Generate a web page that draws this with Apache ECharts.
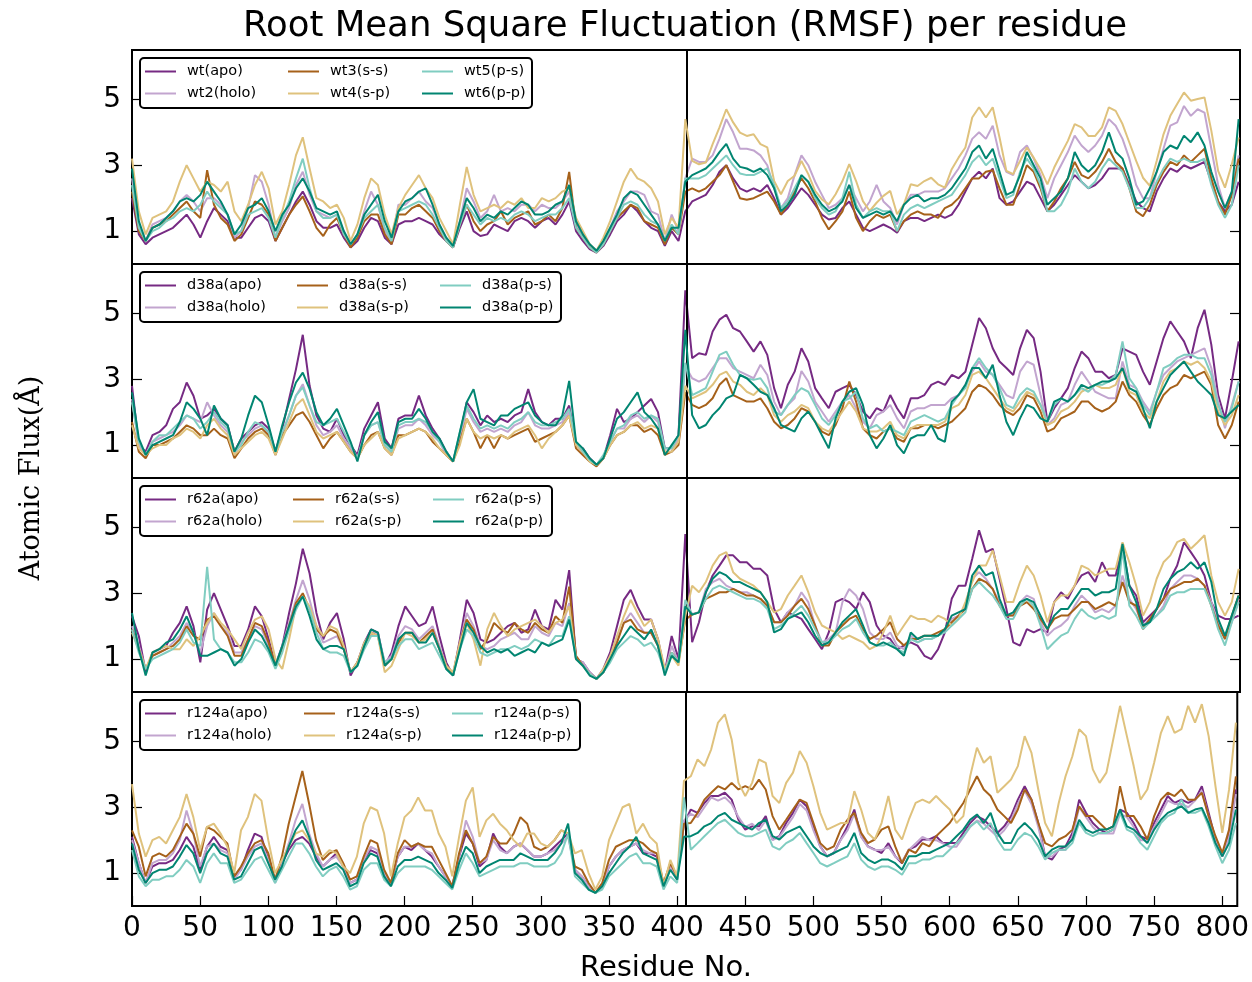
<!DOCTYPE html>
<html><head><meta charset="utf-8">
<script src="https://cdn.jsdelivr.net/npm/echarts@6/dist/echarts.min.js"></script>
<style>html,body{margin:0;padding:0;background:#fff}#c{width:1252px;height:982px}</style>
</head><body><div id="c"></div>
<script>
// ---------- DATA ----------
const residuesA = [0,5,10,15,20,25,30,35,40,45,50,55,60,65,70,75,80,85,90,95,100,105,110,115,120,125,130,135,140,145,150,155,160,165,170,175,180,185,190,195,200,205,210,215,220,225,230,235,240,245,250,255,260,265,270,275,280,285,290,295,300,305,310,315,320,325,330,335,340,345,350,355,360,365,370,375,380,385,390,395,400,405];
const residuesB = [410,415,420,425,430,435,440,445,450,455,460,465,470,475,480,485,490,495,500,505,510,515,520,525,530,535,540,545,550,555,560,565,570,575,580,585,590,595,600,605,610,615,620,625,630,635,640,645,650,655,660,665,670,675,680,685,690,695,700,705,710,715,720,725,730,735,740,745,750,755,760,765,770,775,780,785,790,795,800,805,810];
const xTickValues = [0,50,100,150,200,250,300,350,400,450,500,550,600,650,700,750,800];
const yTickValues = [1,3,5];
const chainBoundary = 406;

const wtLabels   = ['wt(apo)','wt2(holo)','wt3(s-s)','wt4(s-p)','wt5(p-s)','wt6(p-p)'];
const d38aLabels = ['d38a(apo)','d38a(holo)','d38a(s-s)','d38a(s-p)','d38a(p-s)','d38a(p-p)'];
const r62aLabels = ['r62a(apo)','r62a(holo)','r62a(s-s)','r62a(s-p)','r62a(p-s)','r62a(p-p)'];
const r124aLabels= ['r124a(apo)','r124a(holo)','r124a(s-s)','r124a(s-p)','r124a(p-s)','r124a(p-p)'];
const seriesColors = ['#762a83','#c2a5cf','#a6611a','#dfc27d','#80cdc1','#018571'];

// ----- wt -----
const wt_apo_A = [2.0,0.9,0.6,0.8,0.9,1.0,1.1,1.3,1.5,1.2, 0.8,1.3,1.7,1.5,1.3,0.8,0.8,1.1,1.4,1.5, 1.3,0.7,1.1,1.5,1.9,2.2,1.8,1.3,1.1,1.1, 1.2,0.8,0.5,0.7,1.1,1.4,1.3,0.8,0.6,1.2, 1.3,1.3,1.4,1.3,1.2,0.9,0.7,0.5,1.1,1.6, 1.0,0.85,0.9,1.2,1.1,1.0,1.3,1.4,1.3,1.1, 1.3,1.4,1.2,1.5,1.9,1.0,0.7,0.45,0.35,0.55, 0.9,1.3,1.5,1.8,1.6,1.3,1.1,1.0,0.55,1.0, 0.7,1.6];
const wt_apo_B = [1.9,2.0,2.1,2.4,2.8,3.0,2.6,2.3,2.2,2.3, 2.2,2.4,2.0,1.5,1.7,2.0,2.3,2.1,1.8,1.5, 1.35,1.4,1.7,1.9,1.5,1.1,1.0,1.1,1.2,1.1, 0.95,1.3,1.4,1.4,1.3,1.4,1.5,1.4,1.5,1.8, 2.2,2.6,2.8,2.6,2.9,2.0,1.8,1.9,2.2,2.5, 2.4,2.0,1.6,1.8,2.1,2.4,2.7,2.5,2.3,2.4, 2.6,2.9,2.9,2.9,2.4,1.9,1.7,1.6,2.2,2.6, 2.9,2.8,3.0,2.9,3.0,3.1,2.5,1.9,1.6,1.8, 2.5];
const wt_holo_A = [2.6,1.2,0.7,1.2,1.3,1.4,1.6,1.9,2.1,1.9, 1.6,2.0,2.0,1.8,1.5,0.8,1.0,1.7,2.7,2.5, 1.8,0.8,1.3,1.7,2.4,2.8,2.1,1.6,1.5,1.4, 1.5,1.0,0.6,0.9,1.6,2.2,1.8,1.0,0.7,1.8, 1.8,2.0,2.2,1.9,1.7,1.2,0.8,0.55,1.3,2.3, 1.9,1.4,1.6,2.1,1.6,1.7,1.6,1.8,1.8,1.6, 1.8,1.7,1.7,1.9,2.2,1.2,0.9,0.6,0.4,0.7, 1.1,1.6,1.9,2.2,2.2,2.1,1.6,1.5,0.7,1.5, 1.0,2.6];
const wt_holo_B = [3.2,3.1,3.1,3.3,3.8,4.4,4.0,3.5,3.5,3.45, 3.3,3.0,2.3,1.7,2.0,2.7,3.3,3.0,2.5,2.1, 1.7,1.8,2.0,2.4,2.0,1.6,1.9,2.4,1.9,1.7, 1.2,1.8,2.1,2.1,2.2,2.2,2.2,2.3,2.6,2.9, 3.3,3.8,4.0,3.8,4.2,3.3,2.8,2.7,3.4,3.6, 3.2,2.7,2.0,2.6,3.0,3.4,3.9,3.6,3.4,3.6, 3.9,4.4,4.2,3.8,3.2,2.4,2.0,2.0,2.8,3.5, 4.2,4.3,4.8,4.5,4.7,4.6,3.5,2.4,1.7,2.2, 3.3];
const wt_ss_A = [2.2,1.0,0.7,1.1,1.2,1.3,1.5,1.7,1.9,1.6, 1.4,2.85,1.8,1.4,1.2,0.7,0.9,1.4,1.9,1.8, 1.5,0.7,1.1,1.5,1.8,2.05,1.6,1.1,0.85,1.2, 1.4,0.9,0.5,0.8,1.3,1.5,1.5,0.9,0.6,1.5, 1.5,1.7,1.8,1.6,1.4,1.0,0.7,0.5,1.2,1.8, 1.3,1.0,1.2,1.3,1.6,1.2,1.4,1.5,1.6,1.2, 1.3,1.5,1.3,1.7,2.8,1.1,0.8,0.5,0.35,0.6, 1.0,1.4,1.6,1.8,1.7,1.3,1.2,1.1,0.6,1.1, 0.9,2.2];
const wt_ss_B = [2.3,2.2,2.3,2.5,2.7,3.0,2.5,2.0,1.95,2.0, 2.1,2.2,1.9,1.5,1.8,2.2,2.6,2.3,1.9,1.4, 1.05,1.3,1.6,2.2,1.4,1.0,1.3,1.5,1.4,1.5, 1.0,1.3,1.5,1.6,1.5,1.5,1.4,1.7,1.8,2.0, 2.3,2.6,2.6,2.8,2.85,2.3,1.8,1.8,2.4,3.0, 2.8,2.3,1.6,1.9,2.3,2.6,3.1,2.7,2.6,2.8, 3.1,3.5,3.1,2.9,2.3,1.6,1.45,1.8,2.4,2.8, 3.1,3.0,3.3,3.1,3.3,3.5,2.6,1.9,1.5,2.1, 3.2];
const wt_sp_A = [3.2,1.6,0.9,1.4,1.5,1.6,1.9,2.5,3.0,2.6, 2.2,2.5,2.4,2.2,2.5,1.6,1.3,1.8,2.4,2.8, 2.3,1.2,1.6,2.4,3.3,3.85,2.9,2.0,1.9,1.7, 1.8,1.4,0.7,1.2,2.0,2.6,2.4,1.5,0.9,1.7, 2.1,2.4,2.7,2.3,2.0,1.4,1.0,0.6,1.8,2.95, 2.1,1.6,1.7,1.8,1.7,1.9,1.8,2.0,1.7,1.7, 2.0,1.9,2.0,2.2,2.3,1.4,1.0,0.6,0.4,0.8, 1.3,1.9,2.5,2.9,2.6,2.5,2.3,1.9,0.9,1.4, 1.1,4.4];
const wt_sp_B = [3.13,3.03,3.08,3.64,4.15,4.7,4.3,3.99,3.89,3.94, 3.64,3.54,2.52,2.12,2.52,2.68,3.13,2.73,2.22,1.96, 1.81,2.12,2.52,3.03,2.52,1.91,1.61,1.86,2.07,2.22, 1.51,1.81,2.42,2.37,2.52,2.62,2.42,2.32,2.88,3.23, 3.54,4.45,4.76,4.45,4.76,3.84,2.83,2.73,3.13,3.54, 3.23,2.88,2.42,2.93,3.34,3.74,4.25,4.15,3.89,3.89, 4.15,4.76,4.65,4.25,3.69,3.13,2.62,2.37,3.13,3.94, 4.5,4.86,5.21,4.96,5.01,5.06,4.05,2.83,2.32,3.03, 3.84];
const wt_ps_A = [2.4,1.1,0.7,1.0,1.1,1.3,1.4,1.6,1.7,1.6, 1.8,2.2,1.9,1.7,1.5,0.9,1.0,1.5,1.6,1.7, 1.4,0.8,1.4,1.9,2.6,3.2,2.3,1.6,1.4,1.4, 1.5,0.9,0.6,0.9,1.4,1.6,1.8,1.1,0.7,1.6, 1.7,1.8,1.9,1.8,1.5,1.1,0.7,0.5,1.2,1.8, 1.5,1.2,1.4,1.3,1.4,1.3,1.5,1.6,1.5,1.3, 1.4,1.5,1.5,1.7,2.0,1.1,0.8,0.5,0.35,0.6, 1.0,1.4,1.8,1.9,1.8,1.5,1.3,1.2,0.7,1.2, 0.9,2.6];
const wt_ps_B = [2.6,2.6,2.7,2.9,3.1,3.3,3.0,2.75,2.7,2.7, 2.8,2.9,2.4,1.7,1.9,2.3,2.7,2.5,2.0,1.7, 1.5,1.6,2.0,2.8,1.8,1.4,1.6,1.7,1.6,1.6, 1.0,1.5,1.7,1.8,1.7,1.8,1.9,2.0,2.1,2.4, 2.7,3.1,3.3,3.0,3.2,2.6,2.0,2.1,2.8,3.2, 2.9,2.4,1.6,1.6,1.8,2.2,2.9,2.5,2.3,2.5, 2.9,3.2,3.0,2.8,2.3,1.7,1.7,2.0,2.5,2.9, 3.2,3.1,3.2,3.1,3.1,3.2,2.4,1.8,1.4,1.8, 3.0];
const wt_pp_A = [2.9,1.3,0.7,1.1,1.2,1.4,1.6,1.9,2.0,1.9, 2.1,2.5,2.2,1.9,1.5,0.9,1.2,1.7,1.8,2.0, 1.6,1.0,1.5,1.8,2.3,2.6,2.2,1.7,1.6,1.5, 1.6,1.0,0.6,0.9,1.5,1.8,2.1,1.3,0.8,1.6, 1.9,2.0,2.2,2.3,1.8,1.2,0.8,0.55,1.3,2.0, 1.7,1.3,1.5,1.4,1.6,1.5,1.7,1.9,1.8,1.5, 1.5,1.6,1.8,1.9,2.4,1.3,0.9,0.6,0.4,0.7, 1.1,1.5,2.0,2.2,2.1,1.8,1.5,1.2,0.7,1.1, 1.1,2.5];
const wt_pp_B = [2.7,2.8,2.9,3.1,3.4,3.65,3.2,2.95,2.9,2.8, 2.9,2.7,2.3,1.6,1.8,2.1,2.7,2.5,2.1,1.8, 1.6,1.7,1.9,2.4,1.7,1.4,1.5,1.6,1.5,1.6, 1.3,1.8,2.0,2.1,1.9,2.0,2.0,2.1,2.3,2.6, 2.9,3.4,3.6,3.2,3.5,2.8,2.1,2.2,2.7,3.4, 3.0,2.6,1.8,2.0,2.2,2.6,3.4,3.0,2.8,3.0, 3.4,4.0,3.4,3.2,2.6,1.8,1.9,2.3,2.8,3.4, 3.6,3.5,3.9,3.7,4.0,3.6,2.8,2.2,1.7,2.2, 4.4];

// ----- d38a -----
const d38a_apo_A = [2.8,1.0,0.8,1.3,1.4,1.6,2.1,2.3,2.9,2.5, 1.8,1.9,2.1,1.8,1.6,0.8,1.2,1.4,1.6,1.7, 1.5,0.8,1.5,2.4,3.3,4.35,2.8,1.9,1.5,1.4, 1.8,1.3,1.0,0.7,1.5,1.9,2.3,1.2,0.9,1.8, 1.9,1.9,2.5,1.9,1.5,1.2,0.8,0.5,1.3,2.3, 2.0,1.6,1.9,1.7,1.8,1.7,1.9,2.0,2.7,2.0, 1.7,1.6,1.8,1.8,2.2,1.0,0.9,0.6,0.4,0.6, 1.3,2.1,1.7,1.8,2.0,2.2,2.4,2.0,0.9,0.9, 1.3,5.7];
const d38a_apo_B = [3.64,3.79,3.74,4.45,4.81,4.96,4.55,4.45,4.15,3.84, 4.15,3.74,2.73,2.12,2.83,3.23,3.94,3.54,2.73,2.42, 2.12,2.62,2.73,2.83,2.52,2.02,1.81,2.12,2.02,2.52, 2.12,1.81,2.42,2.42,2.52,2.83,2.93,2.83,3.13,3.03, 3.23,4.05,4.86,4.55,3.94,3.54,3.34,3.13,3.94,4.50, 4.25,3.23,1.71,2.12,2.42,2.73,3.34,3.84,3.64,3.23, 3.23,3.03,3.13,3.94,3.84,3.74,3.23,2.83,3.54,4.25, 4.76,4.45,4.15,3.64,4.55,5.11,4.05,2.52,1.81,2.93, 4.15];
const d38a_holo_A = [2.4,1.0,0.7,1.1,1.2,1.3,1.4,1.6,1.9,1.8, 1.7,2.3,1.9,1.6,1.4,0.7,1.1,1.3,1.5,1.6, 1.3,0.7,1.3,1.9,2.5,2.85,2.2,1.6,1.3,1.4, 1.6,1.2,0.9,0.6,1.3,1.6,1.7,1.0,0.8,1.5, 1.6,1.6,1.8,1.6,1.3,1.1,0.7,0.5,1.2,2.1, 1.7,1.4,1.5,1.4,1.5,1.4,1.6,1.7,2.0,1.6, 1.5,1.5,1.6,1.7,2.0,1.0,0.8,0.55,0.4,0.6, 1.1,1.5,1.5,1.8,1.9,1.7,1.9,1.7,0.8,0.8, 1.2,3.4];
const d38a_holo_B = [3.03,2.93,3.03,3.34,3.64,3.64,3.34,3.23,3.13,3.03, 3.44,3.13,2.32,1.91,2.22,2.42,3.25,2.93,2.32,2.02, 1.71,2.02,2.32,2.52,2.12,1.71,1.51,1.91,2.02,2.22, 1.81,1.51,2.02,2.12,2.12,2.22,2.22,2.22,2.42,2.52, 2.83,3.23,3.54,3.23,3.13,2.83,2.52,2.42,3.23,3.54, 3.44,2.52,1.61,1.81,2.22,2.32,2.83,3.23,2.93,2.62, 2.52,2.42,2.42,3.54,2.83,2.73,2.32,2.02,2.62,3.13, 3.34,3.54,3.64,3.74,3.84,3.94,3.34,2.32,1.51,2.22, 2.93];
const d38a_ss_A = [1.7,0.8,0.6,1.0,1.0,1.1,1.2,1.4,1.6,1.5, 1.3,1.3,1.5,1.3,1.2,0.6,0.9,1.2,1.4,1.5, 1.3,0.7,1.3,1.6,1.9,2.0,1.7,1.3,0.9,1.2, 1.4,1.1,0.8,0.6,1.0,1.3,1.4,0.9,0.7,1.3, 1.3,1.4,1.5,1.4,1.1,0.9,0.7,0.5,1.1,1.8, 1.4,0.9,1.3,0.9,1.3,1.2,1.3,1.4,1.5,1.1, 1.2,1.3,1.4,1.6,1.9,0.9,0.7,0.5,0.35,0.6, 1.0,1.3,1.4,1.6,1.6,1.4,1.5,1.3,0.7,0.8, 1.0,2.6];
const d38a_ss_B = [2.22,2.12,2.22,2.42,2.83,3.03,2.52,2.42,2.32,2.32, 2.42,2.12,1.71,1.51,1.61,1.81,2.12,2.02,1.71,1.41, 1.30,1.61,2.12,2.93,2.32,1.51,1.30,1.20,1.41,1.51, 1.20,1.10,1.51,1.51,1.61,1.61,1.51,1.61,1.71,1.91, 2.12,2.62,2.83,2.73,2.52,2.22,2.02,1.91,2.12,2.52, 2.42,2.02,1.41,1.51,1.81,1.91,2.02,2.32,2.32,2.12, 2.02,2.12,2.32,2.93,2.52,2.32,1.91,1.61,2.12,2.52, 2.73,2.83,3.13,3.03,3.13,3.23,2.83,1.61,1.20,1.61, 2.32];
const d38a_sp_A = [1.6,0.9,0.7,0.9,1.0,1.0,1.2,1.3,1.5,1.4, 1.2,1.6,1.8,1.5,1.3,0.7,0.9,1.1,1.3,1.4, 1.2,0.7,1.2,1.7,2.2,2.4,1.9,1.4,1.2,1.3, 1.4,1.1,0.8,0.6,1.0,1.2,1.4,0.9,0.7,1.2, 1.3,1.4,1.5,1.4,1.2,0.9,0.7,0.5,1.0,1.8, 1.4,1.2,1.3,1.2,1.3,1.2,1.4,1.5,1.6,1.3, 0.9,1.2,1.4,1.6,1.9,1.0,0.8,0.5,0.4,0.6, 1.0,1.3,1.4,1.6,1.7,1.5,1.6,1.5,0.8,0.8, 1.1,2.8];
const d38a_sp_B = [2.42,2.52,2.62,2.83,3.13,3.23,2.93,2.83,2.62,2.52, 2.73,2.52,1.91,1.71,1.91,2.02,2.22,2.12,1.71,1.51, 1.41,1.71,2.02,2.32,2.02,1.51,1.41,1.41,1.51,1.71, 1.30,1.20,1.51,1.61,1.61,1.61,1.61,1.71,2.12,2.22, 2.52,3.13,3.23,3.03,2.73,2.42,2.12,2.02,2.32,2.62, 2.52,2.22,1.61,1.71,2.02,2.12,2.32,2.62,2.73,2.83, 2.73,2.73,2.83,3.34,2.62,2.52,2.02,1.81,2.32,2.93, 3.23,3.34,3.54,3.44,3.54,3.34,2.93,2.02,1.61,1.91, 2.52];
const d38a_ps_A = [2.3,1.1,0.7,1.1,1.3,1.3,1.5,1.7,1.9,1.8, 1.5,1.7,2.0,1.7,1.5,0.8,1.0,1.4,1.7,1.6, 1.4,0.8,1.4,1.9,2.5,2.75,2.2,1.7,1.6,1.7, 1.8,1.4,1.0,0.6,1.3,1.6,1.7,1.0,0.8,1.6, 1.7,1.7,1.8,1.7,1.4,1.1,0.8,0.5,1.4,2.2, 1.8,1.5,1.6,1.5,1.6,1.5,1.7,1.8,2.0,1.7, 1.6,1.6,1.7,1.8,2.1,1.1,0.8,0.55,0.4,0.7, 1.1,1.5,1.6,1.9,2.0,1.8,1.9,1.8,0.9,0.9, 1.3,3.5];
const d38a_ps_B = [2.52,2.62,2.73,3.23,3.74,3.84,3.44,3.13,3.03,2.98, 3.03,2.73,2.02,1.91,2.22,2.52,2.73,2.62,2.22,1.81, 1.61,1.91,2.32,2.42,2.62,1.81,1.51,1.61,1.41,1.51, 1.41,1.30,1.71,1.81,1.91,1.81,1.71,1.81,2.22,2.52, 2.73,3.34,3.64,3.34,3.13,2.73,2.22,2.12,2.52,2.73, 2.62,2.22,1.71,2.22,2.42,2.32,2.52,2.73,2.62,2.83, 2.83,2.93,3.13,4.15,3.03,2.73,2.22,1.91,2.62,3.34, 3.44,3.64,3.74,3.74,3.64,3.64,3.13,2.22,1.71,2.12, 2.93];
const d38a_pp_A = [2.6,1.2,0.7,1.0,1.1,1.2,1.3,1.7,2.3,2.1, 1.8,1.3,2.2,1.8,1.6,0.8,1.2,1.9,2.5,2.3, 1.6,0.8,1.6,2.3,2.9,3.2,2.7,2.0,1.6,1.8, 2.1,1.6,1.1,0.5,1.3,1.7,2.0,1.1,0.9,1.7, 1.8,1.8,2.1,1.8,1.4,1.2,0.8,0.5,1.4,2.3, 2.7,1.8,1.7,1.6,1.9,1.9,2.1,2.2,2.3,1.9, 1.7,1.6,1.6,1.9,2.95,1.1,0.9,0.6,0.4,0.6, 1.2,1.8,2.0,2.3,2.6,2.0,1.8,1.5,0.7,1.0, 1.3,4.5];
const d38a_pp_B = [1.91,1.51,1.61,1.91,2.12,2.42,2.52,3.13,3.03,2.83, 2.62,2.52,2.12,1.61,1.51,1.41,1.81,2.02,1.71,1.30, 0.90,1.81,2.32,2.62,2.73,2.22,1.30,0.90,1.20,1.61, 1.00,0.75,1.20,1.30,1.30,1.61,1.20,1.10,2.32,2.52, 2.83,3.34,3.34,3.03,3.44,2.52,1.71,1.30,1.81,2.22, 2.12,1.81,1.71,2.32,2.42,2.32,2.52,2.83,2.73,2.83, 2.93,2.93,3.03,3.34,2.73,2.62,2.12,1.51,2.32,2.73, 3.13,3.34,3.54,3.23,2.93,2.73,2.52,1.91,1.81,2.02, 2.22];

// ----- r62a -----
const r62a_apo_A = [2.3,1.7,0.6,1.2,1.3,1.4,1.8,2.1,2.6,2.0, 0.9,2.5,3.0,2.5,2.0,1.4,1.4,1.9,2.6,2.3, 1.6,0.8,1.4,2.4,3.3,4.35,3.6,2.4,1.6,2.1, 2.4,1.6,0.5,0.9,1.5,1.9,1.8,0.8,1.2,2.0, 2.6,2.3,2.0,2.1,2.6,1.7,0.9,0.5,1.6,2.8, 2.4,1.6,1.5,1.6,1.8,2.0,2.1,1.8,1.9,2.5, 2.0,1.9,2.8,2.5,3.7,1.0,0.9,0.6,0.4,0.7, 1.2,2.0,2.8,3.1,2.6,2.2,2.2,1.6,0.6,1.7, 1.0,4.8];
const r62a_apo_B = [1.51,2.12,3.03,3.54,3.84,4.15,4.15,3.94,3.94,3.74, 3.74,3.54,2.52,2.12,2.42,2.32,2.22,1.91,1.61,1.30, 1.81,2.73,2.83,2.73,2.52,3.03,2.73,2.02,1.71,1.61, 1.30,1.41,1.51,1.41,1.10,1.00,1.30,1.81,2.83,3.23, 3.23,4.05,4.91,4.25,4.35,3.44,2.52,1.51,1.41,1.91, 1.81,1.91,1.81,2.73,3.03,2.83,3.23,3.54,3.64,3.34, 3.94,3.54,3.54,4.45,3.23,2.93,2.12,2.32,2.52,2.83, 3.44,3.84,4.55,4.25,3.94,3.54,2.73,2.32,2.22,2.22, 2.32];
const r62a_holo_A = [2.0,1.4,0.7,1.1,1.2,1.3,1.5,1.7,2.1,1.8, 1.2,2.0,2.4,2.0,1.8,1.2,1.2,1.6,2.0,1.9, 1.4,0.8,1.4,2.1,2.8,3.4,2.8,2.0,1.5,1.6, 1.7,1.3,0.6,0.9,1.4,1.8,1.8,0.9,1.1,1.7, 2.0,1.9,1.6,1.8,2.0,1.4,0.8,0.5,1.5,2.4, 2.0,1.4,1.3,1.4,1.6,1.7,1.8,1.6,1.6,2.0, 1.8,1.7,2.1,2.0,2.7,1.0,0.9,0.6,0.4,0.6, 1.0,1.6,2.1,2.4,2.1,1.8,1.8,1.4,0.6,1.4, 0.9,2.7];
const r62a_holo_B = [2.37,2.42,3.13,3.34,3.44,3.23,3.13,3.03,3.03,2.93, 2.83,2.62,2.12,2.12,2.42,2.62,3.03,2.73,2.02,1.51, 1.61,1.81,2.73,3.13,2.93,2.52,1.81,1.61,1.61,1.81, 1.41,1.30,1.71,1.51,1.61,1.61,1.71,1.91,2.22,2.32, 2.62,3.44,3.64,3.44,3.13,2.73,2.32,2.32,2.73,2.93, 2.83,2.12,1.71,1.91,2.02,2.22,2.62,2.93,2.73,2.42, 2.52,2.42,2.62,3.54,2.83,2.52,2.02,2.22,2.32,2.62, 3.13,3.34,3.54,3.54,3.44,3.23,2.73,2.12,1.61,2.12, 2.83];
const r62a_ss_A = [1.9,1.3,0.7,1.1,1.2,1.3,1.4,1.6,2.0,1.7, 1.6,2.2,2.3,2.0,1.7,1.1,1.1,1.6,2.1,2.0, 1.5,0.8,1.3,2.0,2.7,3.0,2.5,1.9,1.7,1.9, 1.8,1.3,0.6,0.9,1.4,1.8,1.7,0.8,1.0,1.5, 1.8,1.8,1.5,1.7,1.9,1.3,0.8,0.5,1.5,2.2, 1.9,1.3,1.6,2.1,1.9,1.8,2.1,1.9,1.8,2.1, 1.9,1.8,2.3,2.1,3.2,1.1,0.8,0.55,0.4,0.6, 1.0,1.5,2.1,2.2,1.9,1.8,1.8,1.4,0.6,1.2, 0.9,2.2];
const r62a_ss_B = [2.35,2.42,2.83,2.93,3.03,3.03,3.13,3.03,2.93,2.93, 2.83,2.62,2.12,2.12,2.32,2.62,2.83,2.52,2.02,1.41, 1.41,1.81,2.02,2.22,2.32,1.91,1.61,1.71,1.91,2.12, 1.61,1.41,1.61,1.61,1.71,1.71,1.81,1.91,2.12,2.32, 2.52,3.13,3.44,3.34,3.13,2.62,2.32,2.32,2.62,2.73, 2.52,2.22,1.91,2.22,2.32,2.32,2.52,2.73,2.73,2.52, 2.62,2.73,2.62,3.34,2.73,2.62,1.91,2.22,2.52,2.83, 3.13,3.23,3.34,3.34,3.44,3.23,2.62,2.02,1.61,2.32, 2.93];
const r62a_sp_A = [1.8,1.3,0.7,1.2,1.3,1.4,1.3,1.3,1.6,1.4, 1.7,2.1,2.4,2.1,1.9,1.6,1.3,1.8,2.2,2.3, 1.9,1.0,0.7,1.6,2.6,2.9,2.6,2.0,1.7,2.0, 1.9,1.4,0.6,0.9,1.5,1.8,1.7,0.6,0.8,1.3, 1.8,1.7,1.5,1.6,1.8,1.3,0.8,0.6,1.5,2.1, 1.6,0.8,1.9,2.4,2.0,1.7,1.9,2.0,2.1,2.2, 2.0,1.8,2.1,2.2,2.6,1.0,0.8,0.55,0.4,0.7, 1.1,1.7,2.3,2.8,2.4,2.0,2.2,1.6,0.7,1.1, 0.8,2.3];
const r62a_sp_B = [3.23,3.03,3.34,3.84,4.15,4.25,3.64,3.44,3.34,3.23, 3.03,2.73,2.42,2.52,2.93,3.23,3.54,3.03,2.42,2.02, 1.91,1.81,1.61,1.71,1.61,1.51,1.30,1.41,1.81,2.32, 1.71,2.02,2.32,2.22,2.22,2.12,2.32,2.22,2.02,2.22, 2.73,3.34,3.84,3.84,4.30,3.54,2.73,2.73,3.34,3.84, 3.54,2.93,2.12,2.73,2.93,2.93,3.23,3.84,3.74,3.54, 3.64,3.74,3.74,4.55,3.94,3.23,2.32,2.73,3.44,3.94, 4.15,4.55,4.65,4.35,4.55,4.76,3.54,2.73,2.32,2.73, 3.74];
const r62a_ps_A = [1.9,1.2,0.7,1.0,1.1,1.2,1.3,1.5,1.9,1.5, 1.4,3.8,1.6,1.3,1.2,0.9,0.9,1.2,1.6,1.5, 1.2,0.7,1.2,1.9,2.5,2.9,2.5,1.8,1.3,1.2, 1.2,1.1,0.6,0.8,1.3,1.7,1.7,0.9,1.0,1.4, 1.6,1.6,1.3,1.4,1.5,1.1,0.7,0.5,1.3,1.9, 1.7,1.2,1.1,1.2,1.3,1.3,1.4,1.3,1.4,1.6, 1.5,1.4,1.7,1.7,2.3,1.0,0.8,0.55,0.4,0.6, 0.9,1.3,1.5,1.7,1.6,1.4,1.5,1.2,0.6,1.2, 0.9,2.8];
const r62a_ps_B = [2.35,2.42,2.83,3.13,3.23,3.13,3.03,2.93,2.83,2.83, 2.73,2.52,1.91,2.02,2.22,2.42,2.62,2.32,1.91,1.51, 1.51,1.71,1.91,2.02,2.22,1.81,1.51,1.41,1.41,1.51, 1.30,1.20,1.61,1.51,1.61,1.61,1.71,1.81,2.02,2.22, 2.42,3.13,3.34,3.13,2.93,2.62,2.22,2.22,2.62,2.83, 2.62,2.02,1.30,1.51,1.71,1.81,2.22,2.52,2.32,2.22, 2.32,2.22,2.32,4.35,2.62,2.32,1.91,2.12,2.32,2.52, 2.93,3.03,3.03,3.13,3.13,3.13,2.62,1.91,1.41,2.12, 2.73];
const r62a_pp_A = [2.4,1.3,0.5,1.2,1.3,1.5,1.6,1.9,2.3,1.8, 1.1,1.1,1.2,1.3,1.2,0.8,1.0,1.5,1.9,1.7, 1.3,0.8,1.4,2.0,2.6,2.9,2.3,1.6,1.3,1.4, 1.4,1.3,0.6,0.8,1.4,1.9,1.8,0.8,1.0,1.6, 1.8,1.8,1.5,1.5,1.8,1.3,0.7,0.5,1.3,2.1, 1.8,1.4,1.2,1.3,1.2,1.3,1.1,1.2,1.3,1.2, 1.5,1.4,1.5,1.6,2.2,1.0,0.8,0.5,0.4,0.6, 1.0,1.4,1.7,2.0,1.8,1.6,1.9,1.4,0.5,1.1, 0.9,2.6];
const r62a_pp_B = [2.35,2.42,3.03,3.44,3.64,3.54,3.34,3.34,3.23,3.13, 3.03,2.73,1.81,1.91,2.22,2.32,2.42,2.12,1.71,1.41, 1.51,1.81,2.12,2.32,2.52,2.02,1.51,1.41,1.51,1.41, 1.30,1.10,1.81,1.61,1.71,1.71,1.71,1.91,2.32,2.42, 2.52,3.54,3.84,3.54,3.64,2.83,2.32,2.42,2.73,2.83, 2.73,2.32,1.91,2.32,2.52,2.52,2.83,3.13,3.13,2.93, 3.03,3.03,3.13,4.50,3.23,2.73,2.02,2.12,2.52,3.13, 3.44,3.64,3.74,3.94,3.74,3.94,3.34,2.22,1.71,2.32, 2.93];

// ----- r124a -----
const r124a_apo_A = [2.1,1.3,0.7,1.2,1.3,1.3,1.4,1.7,2.1,1.8, 1.1,1.8,2.1,1.8,1.7,0.9,1.1,1.7,2.2,2.1, 1.4,0.8,1.3,1.7,2.0,2.1,1.9,1.5,1.2,1.4, 1.6,1.2,0.7,0.8,1.4,1.7,1.6,1.0,0.7,1.5, 1.8,1.7,1.9,1.7,1.5,1.2,0.9,0.6,1.5,2.2, 1.9,1.2,1.4,2.2,1.8,1.6,1.8,1.9,1.7,1.5, 1.5,1.6,1.8,2.0,2.2,1.1,0.9,0.6,0.4,0.6, 1.2,1.5,1.7,1.8,1.9,1.6,1.6,1.5,0.6,1.2, 0.8,2.5];
const r124a_apo_B = [2.93,2.83,3.13,3.34,3.34,3.44,3.23,2.62,2.32,2.42, 2.42,2.73,2.02,2.12,2.52,2.83,3.23,3.03,2.42,1.81, 1.51,1.61,2.02,2.42,2.93,2.12,1.81,1.71,1.61,1.91, 1.51,1.30,1.71,1.81,2.02,2.02,2.12,1.91,1.91,1.91, 2.22,2.52,2.73,2.62,2.42,2.22,2.42,2.73,3.23,3.64, 3.23,2.52,1.51,1.41,1.71,1.81,2.22,3.23,2.83,2.52, 2.32,2.22,2.32,2.93,2.83,2.52,2.12,2.02,2.52,2.93, 3.34,3.13,3.23,3.13,3.23,3.64,2.83,2.02,1.51,2.22, 3.54];
const r124a_holo_A = [2.0,1.3,0.7,1.3,1.4,1.4,1.6,2.0,2.9,2.2, 1.2,1.8,1.9,1.7,1.6,0.8,1.1,1.5,1.8,1.9, 1.4,0.7,1.3,1.9,2.6,3.1,2.2,1.6,1.2,1.4, 1.5,1.2,0.7,0.8,1.4,1.8,1.7,1.0,0.7,1.5, 1.8,1.8,1.9,1.7,1.6,1.2,0.9,0.6,1.5,2.6, 2.1,1.3,1.4,2.0,1.7,1.6,1.8,1.9,1.7,1.5, 1.5,1.6,1.7,1.9,2.1,1.1,0.9,0.6,0.4,0.6, 1.2,1.5,1.7,1.8,1.9,1.7,1.6,1.6,0.6,1.2, 0.8,2.6];
const r124a_holo_B = [2.8,2.7,3.0,3.3,3.2,3.3,3.1,2.7,2.4,2.5, 2.3,2.6,2.0,2.1,2.4,2.7,3.1,2.9,2.3,1.8, 1.5,1.6,2.0,2.3,2.8,2.1,1.8,1.7,1.7,1.8, 1.5,1.35,1.7,1.9,2.1,2.0,2.0,1.9,1.8,1.8, 2.1,2.4,2.6,2.5,2.3,2.1,2.3,2.6,3.1,3.5, 3.1,2.4,1.5,1.5,1.7,1.7,2.1,3.0,2.7,2.4, 2.2,2.2,2.2,2.8,2.7,2.4,2.0,2.0,2.4,2.8, 3.2,3.1,3.1,3.0,3.2,3.5,2.7,2.0,1.5,2.1, 3.4];
const r124a_ss_A = [2.3,1.8,0.9,1.5,1.6,1.5,1.7,2.1,2.5,2.2, 1.5,2.4,2.3,2.1,1.9,0.9,1.2,1.6,1.9,2.0, 1.6,0.8,1.5,2.5,3.3,4.1,3.1,2.0,1.4,1.6, 1.7,1.3,0.8,0.9,1.5,2.0,1.9,1.1,0.7,1.6, 2.0,1.8,1.9,1.8,1.8,1.4,1.0,0.6,1.6,2.3, 1.9,1.3,1.5,2.1,1.9,1.9,2.2,2.7,2.5,1.8, 1.7,1.8,2.0,2.3,2.2,1.2,1.1,0.7,0.4,0.7, 1.4,1.8,1.9,2.0,2.0,1.9,1.7,1.6,0.7,1.3, 0.9,2.5];
const r124a_ss_B = [2.52,2.83,3.23,3.44,3.64,3.54,3.74,3.54,3.64,3.54, 3.84,3.54,2.73,2.32,2.62,2.93,3.23,3.13,2.52,1.91, 1.71,1.81,2.32,2.62,2.83,2.22,1.91,2.02,2.32,2.42, 1.81,1.30,1.71,1.61,1.91,1.81,2.12,2.32,2.52,2.83, 3.13,3.54,3.94,3.54,3.34,2.93,2.73,2.52,2.93,3.54, 3.23,2.52,1.91,1.81,2.02,2.12,2.32,3.03,2.73,2.73, 2.52,2.32,2.42,3.64,2.73,2.73,2.42,2.02,2.73,3.23, 3.44,3.34,3.54,3.23,3.23,3.44,2.73,2.12,1.61,2.32, 3.94];
const r124a_sp_A = [3.7,2.2,1.5,2.0,2.1,1.9,2.3,2.7,3.4,2.7, 1.7,2.4,2.5,2.2,1.8,1.0,2.3,2.7,3.4,3.2, 2.0,1.0,1.4,1.8,2.2,2.3,2.0,1.6,1.5,1.7, 1.6,1.2,1.0,1.5,2.5,3.0,2.9,2.2,0.9,1.9, 2.7,2.9,3.3,2.9,2.9,2.2,1.8,0.9,2.1,3.2, 3.6,2.1,2.6,2.8,2.5,2.3,2.0,1.8,2.2,2.2, 1.9,1.8,2.0,2.3,2.2,1.6,1.7,1.0,0.5,0.9, 2.0,2.5,3.0,3.1,2.2,2.5,2.1,1.9,0.6,1.4, 0.9,3.8];
const r124a_sp_B = [3.94,4.45,4.25,4.76,5.57,5.82,5.06,3.74,3.34,3.74, 4.45,4.35,3.34,3.13,3.74,4.05,4.71,4.35,3.64,2.83, 2.32,2.42,2.52,2.52,3.49,2.93,2.22,2.02,2.52,3.34, 2.32,2.02,2.62,3.13,3.23,3.13,3.34,3.13,2.93,2.52, 2.73,3.94,4.81,4.35,4.55,3.44,3.64,3.84,4.25,5.16, 4.65,3.54,2.52,2.12,3.13,3.94,4.55,5.37,5.16,4.15, 3.74,4.05,5.06,6.08,5.16,4.25,3.23,3.54,4.35,5.26, 5.77,5.26,5.37,6.08,5.57,6.13,5.16,3.64,2.22,3.54, 5.57];
const r124a_ps_A = [1.7,0.9,0.6,0.8,0.8,0.9,0.9,1.1,1.4,1.2, 0.7,1.3,1.6,1.3,1.3,0.7,0.8,1.1,1.4,1.5, 1.1,0.7,1.1,1.5,1.9,1.9,1.6,1.2,0.9,1.1, 1.2,0.9,0.5,0.6,1.1,1.3,1.3,0.8,0.6,1.0, 1.2,1.2,1.2,1.2,1.1,0.9,0.7,0.5,1.1,1.6, 1.3,0.9,1.0,1.1,1.2,1.2,1.2,1.3,1.3,1.2, 1.2,1.2,1.3,1.6,2.2,0.9,0.7,0.5,0.4,0.5, 0.9,1.1,1.3,1.5,1.6,1.3,1.3,1.2,0.5,0.9, 0.7,3.3];
const r124a_ps_B = [1.71,1.91,2.12,2.32,2.52,2.62,2.42,2.22,2.12,2.12, 2.22,2.32,1.81,1.71,1.91,2.02,2.22,1.91,1.61,1.30, 1.20,1.30,1.41,1.51,1.91,1.41,1.20,1.10,1.20,1.20, 1.10,0.95,1.30,1.30,1.41,1.41,1.51,1.51,1.71,1.91, 2.12,2.42,2.57,2.32,2.52,2.02,1.71,1.71,2.02,2.22, 2.12,1.81,1.41,1.61,1.71,1.71,1.91,2.52,2.22,2.12, 2.22,2.22,2.32,2.83,2.32,2.22,1.91,1.71,2.12,2.52, 2.73,2.83,3.23,2.83,2.83,2.93,2.42,1.81,1.30,1.71, 2.52];
const r124a_pp_A = [1.9,1.1,0.7,1.0,1.1,1.1,1.2,1.5,1.85,1.6, 1.0,1.6,1.9,1.6,1.5,0.8,0.9,1.3,1.7,1.8, 1.3,0.8,1.2,1.8,2.3,2.6,2.1,1.4,1.1,1.2, 1.3,1.1,0.6,0.7,1.3,1.6,1.5,0.9,0.6,1.2, 1.4,1.4,1.5,1.4,1.3,1.0,0.8,0.55,1.3,1.8, 1.6,1.0,1.2,1.3,1.4,1.4,1.4,1.6,1.5,1.4, 1.4,1.4,1.6,1.9,2.5,1.0,0.8,0.5,0.4,0.6, 1.0,1.3,1.6,1.8,2.1,1.6,1.5,1.4,0.6,1.1, 0.8,2.1];
const r124a_pp_B = [2.12,2.22,2.42,2.52,2.73,2.83,2.62,2.52,2.42,2.32, 2.52,2.62,2.12,2.02,2.22,2.32,2.42,2.12,1.81,1.61, 1.51,1.61,1.71,1.81,2.22,1.61,1.41,1.30,1.41,1.41, 1.30,1.10,1.51,1.51,1.61,1.61,1.71,1.81,1.91,2.12, 2.32,2.62,2.78,2.52,2.83,2.22,1.91,1.91,2.32,2.52, 2.32,2.02,1.51,1.71,1.81,1.81,2.02,2.62,2.32,2.22, 2.32,2.32,2.42,2.93,2.42,2.32,2.12,1.91,2.32,2.62, 2.83,2.93,3.03,2.83,2.93,2.98,2.52,1.91,1.51,1.91, 2.93];

// ---------- BUILD ----------
const panels = [
  {labels: wtLabels, chains: [[wt_apo_A,wt_apo_B],[wt_holo_A,wt_holo_B],[wt_ss_A,wt_ss_B],[wt_sp_A,wt_sp_B],[wt_ps_A,wt_ps_B],[wt_pp_A,wt_pp_B]]},
  {labels: d38aLabels, chains: [[d38a_apo_A,d38a_apo_B],[d38a_holo_A,d38a_holo_B],[d38a_ss_A,d38a_ss_B],[d38a_sp_A,d38a_sp_B],[d38a_ps_A,d38a_ps_B],[d38a_pp_A,d38a_pp_B]]},
  {labels: r62aLabels, chains: [[r62a_apo_A,r62a_apo_B],[r62a_holo_A,r62a_holo_B],[r62a_ss_A,r62a_ss_B],[r62a_sp_A,r62a_sp_B],[r62a_ps_A,r62a_ps_B],[r62a_pp_A,r62a_pp_B]]},
  {labels: r124aLabels, chains: [[r124a_apo_A,r124a_apo_B],[r124a_holo_A,r124a_holo_B],[r124a_ss_A,r124a_ss_B],[r124a_sp_A,r124a_sp_B],[r124a_ps_A,r124a_ps_B],[r124a_pp_A,r124a_pp_B]]}
];

const PLOT_LEFT = 132, PLOT_RIGHT = 12, PANEL_TOP0 = 50, PANEL_H = 214;
const legendCols = [[144,287,421],[144,296,439],[144,292,432],[144,303,451]];
const legendBoxRight = [531,560,551,579];
const FONT = "'DejaVu Sans', sans-serif";

const grids = [], xAxes = [], yAxes = [], series = [], legends = [], graphics = [];

panels.forEach((p, pi) => {
  const top = PANEL_TOP0 + PANEL_H * pi;
  const isBottom = pi === panels.length - 1;
  grids.push({left: PLOT_LEFT, right: PLOT_RIGHT, top: top, height: PANEL_H,
    show: true, borderColor: '#000', borderWidth: 2, backgroundColor: '#fff'});
  xAxes.push({
    type: 'value', gridIndex: pi, min: 0, max: 811,
    axisLine: {show: false}, splitLine: {show: false},
    axisTick: {show: isBottom, inside: true, length: 10, lineStyle: {color: '#000', width: 1.2}, customValues: xTickValues},
    axisLabel: {show: isBottom, customValues: xTickValues, fontSize: 28, fontFamily: FONT, color: '#000', margin: 9}
  });
  yAxes.push({
    type: 'value', gridIndex: pi, min: 0, max: 6.5, position: 'left',
    axisLine: {show: false}, splitLine: {show: false},
    axisTick: {show: true, inside: true, length: 10, lineStyle: {color: '#000', width: 1.2}, customValues: yTickValues},
    axisLabel: {show: true, customValues: yTickValues, fontSize: 28, fontFamily: FONT, color: '#000', margin: 11}
  });
  yAxes.push({
    type: 'value', gridIndex: pi, min: 0, max: 6.5, position: 'right',
    axisLine: {show: false}, splitLine: {show: false},
    axisTick: {show: true, inside: true, length: 10, lineStyle: {color: '#000', width: 1.2}, customValues: yTickValues},
    axisLabel: {show: false}
  });
  p.chains.forEach((ch, si) => {
    const data = residuesA.map((r, i) => [r, ch[0][i]]).concat(residuesB.map((r, i) => [r, ch[1][i]]));
    const s = {
      type: 'line', name: p.labels[si], xAxisIndex: pi, yAxisIndex: pi * 2,
      data: data, symbol: 'none', showSymbol: false, smooth: false,
      lineStyle: {color: seriesColors[si], width: 2}, itemStyle: {color: seriesColors[si]},
      z: 2 + si, animation: false, silent: true
    };
    if (si === 0) {
      s.markLine = {silent: true, symbol: 'none', label: {show: false}, animation: false,
        lineStyle: {color: '#000', width: 2, type: 'solid'}, data: [{xAxis: chainBoundary}]};
    }
    series.push(s);
  });
  graphics.push({type: 'rect', left: 139, top: top + 7, z: 50,
    shape: {width: legendBoxRight[pi] - 139, height: 50, r: 4},
    style: {fill: '#fff', stroke: '#000', lineWidth: 2}});
  for (let c = 0; c < 3; c++) {
    legends.push({
      orient: 'vertical', left: legendCols[pi][c], top: top + 14, padding: 0,
      itemWidth: 31, itemHeight: 14, itemGap: 7, selectedMode: false, z: 60,
      itemStyle: {opacity: 0, borderWidth: 0},
      data: [p.labels[c * 2], p.labels[c * 2 + 1]],
      textStyle: {fontSize: 14.5, fontFamily: FONT, color: '#000', padding: [0, 0, 0, 6]}
    });
  }
});

graphics.push({type: 'text', x: 685, y: 27, z: 100,
  style: {text: 'Root Mean Square Fluctuation (RMSF) per residue', font: "35.5px 'DejaVu Sans', sans-serif", fill: '#000', textAlign: 'center', textVerticalAlign: 'middle'}});
graphics.push({type: 'text', x: 666, y: 968, z: 100,
  style: {text: 'Residue No.', font: "29px 'DejaVu Sans', sans-serif", fill: '#000', textAlign: 'center', textVerticalAlign: 'middle'}});
graphics.push({type: 'text', x: 32, y: 478, rotation: Math.PI / 2, z: 100,
  style: {text: 'Atomic Flux(Å)', font: "27px 'DejaVu Serif', serif", fill: '#000', textAlign: 'center', textVerticalAlign: 'middle'}});

const chart = echarts.init(document.getElementById('c'), null, {renderer: 'canvas', width: 1252, height: 982});
chart.setOption({
  animation: false,
  backgroundColor: '#fff',
  grid: grids, xAxis: xAxes, yAxis: yAxes, series: series, legend: legends, graphic: graphics
});
</script></body></html>
